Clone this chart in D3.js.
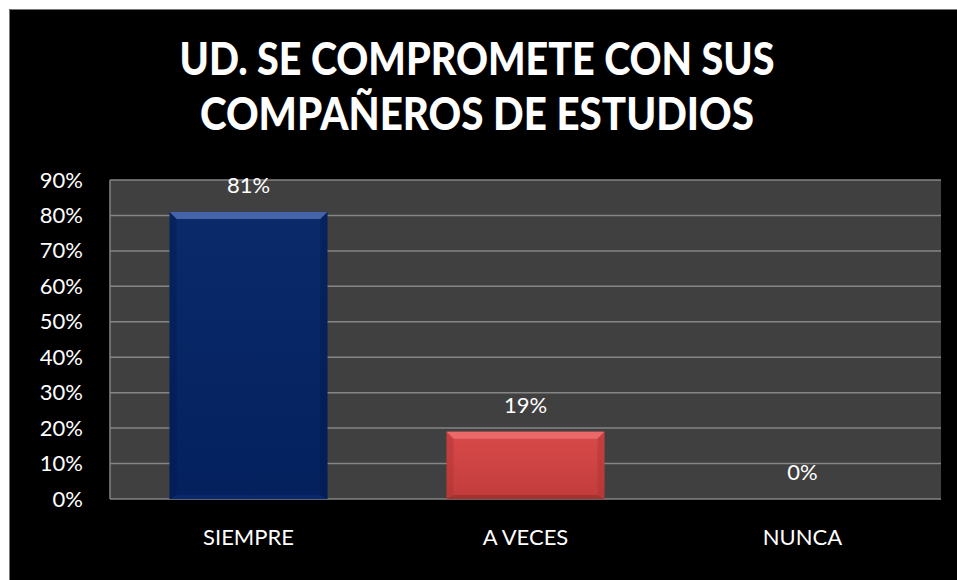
<!DOCTYPE html>
<html><head><meta charset="utf-8">
<script src="https://cdn.jsdelivr.net/npm/d3@7"></script>
<style>
html,body{margin:0;padding:0;background:#fff;}
svg{display:block;}
text{font-family:Lato,"Open Sans",sans-serif;}
</style></head>
<body>
<script>
const titleLines = ["UD. SE COMPROMETE CON SUS", "COMPAÑEROS DE ESTUDIOS"];
const categories = ["SIEMPRE", "A VECES", "NUNCA"];
const values = [0.81, 0.19, 0.00];
const valueLabels = ["81%", "19%", "0%"];
const barColors = ["#062463", "#d14444"];
const tickValues = [0, 0.1, 0.2, 0.3, 0.4, 0.5, 0.6, 0.7, 0.8, 0.9];

const W = 957, H = 580;
const svg = d3.select("body").append("svg").attr("width", W).attr("height", H);
svg.append("rect").attr("x", 9).attr("y", 9).attr("width", W - 9).attr("height", H - 9)
  .attr("fill", "#000");
svg.append("path").attr("d", `M9.5,${H}V9.5H${W}`).attr("fill", "none").attr("stroke", "#777").attr("stroke-width", 1);

const plot = {left: 110, right: 941, top: 180, bottom: 499};
const x = d3.scaleBand().domain(categories).range([plot.left, plot.right]).paddingInner(0.43).paddingOuter(0.215);
const y = d3.scaleLinear().domain([0, 0.9]).range([plot.bottom, plot.top]);

// title
const titleW = [595, 554];
titleLines.forEach((t, i) => {
  svg.append("text").attr("x", 477).attr("y", 75 + i * 55)
    .attr("text-anchor", "middle").attr("fill", "#fff")
    .attr("font-weight", 900).attr("font-size", 45)
    .attr("textLength", titleW[i]).attr("lengthAdjust", "spacingAndGlyphs")
    .text(t);
});

// plot background
svg.append("rect").attr("x", plot.left).attr("y", plot.top)
  .attr("width", plot.right - plot.left).attr("height", plot.bottom - plot.top)
  .attr("fill", "#404040");

// gridlines
svg.append("g").selectAll("line").data(tickValues).join("line")
  .attr("x1", plot.left).attr("x2", plot.right)
  .attr("y1", d => y(d)).attr("y2", d => y(d))
  .attr("stroke", "#858585").attr("stroke-width", 1.5);
svg.append("line").attr("x1", plot.left).attr("x2", plot.left).attr("y1", plot.top).attr("y2", plot.bottom)
  .attr("stroke", "#858585").attr("stroke-width", 1.5);

// y axis
const yAxis = svg.append("g").attr("transform", `translate(${plot.left},0)`)
  .call(d3.axisLeft(y).tickValues(tickValues).tickFormat(d3.format(".0%")).tickSize(0).tickPadding(27));
yAxis.select(".domain").remove();
yAxis.selectAll("text").attr("fill", "#fff").attr("font-size", 22).attr("font-family", "Lato, sans-serif");

// x axis
const xAxis = svg.append("g").attr("transform", `translate(0,${plot.bottom})`)
  .call(d3.axisBottom(x).tickSize(0).tickPadding(30));
xAxis.select(".domain").remove();
xAxis.selectAll("text").attr("fill", "#fff").attr("font-size", 22).attr("font-family", "Lato, sans-serif");

// gradients
const defs = svg.append("defs");
function grad(id, stops) {
  const g = defs.append("linearGradient").attr("id", id).attr("x1", 0).attr("y1", 0).attr("x2", 0).attr("y2", 1);
  stops.forEach(s => g.append("stop").attr("offset", s[0]).attr("stop-color", s[1]));
}
grad("gb", [[0, "#0a2a6a"], [1, "#04215e"]]);
grad("gr", [[0, "#d94a4a"], [1, "#c23c3c"]]);
const fills = ["url(#gb)", "url(#gr)"];
const topCol = ["#4d6fb5", "#ee6e6e"];
const sideCol = ["#031a4c", "#a83232"];
const botCol = ["#0a2c70", "#9a2c2c"];

const bars = svg.append("g");
values.forEach((v, i) => {
  if (v <= 0) return;
  const x0 = x(categories[i]), x1 = x0 + x.bandwidth();
  const y0 = y(v), y1 = y(0);
  const b = 7;
  const g = bars.append("g");
  g.append("rect").attr("x", x0).attr("y", y0).attr("width", x1 - x0).attr("height", y1 - y0)
    .attr("fill", fills[i]);
  g.append("polygon").attr("points", [[x0, y0], [x1, y0], [x1 - b, y0 + b], [x0 + b, y0 + b]].join(" "))
    .attr("fill", topCol[i]).attr("opacity", 0.85);
  g.append("polygon").attr("points", [[x0, y0], [x0 + b, y0 + b], [x0 + b, y1 - 4], [x0, y1]].join(" "))
    .attr("fill", sideCol[i]).attr("opacity", 0.4);
  g.append("polygon").attr("points", [[x1, y0], [x1 - b, y0 + b], [x1 - b, y1 - 4], [x1, y1]].join(" "))
    .attr("fill", sideCol[i]).attr("opacity", 0.4);
  g.append("polygon").attr("points", [[x0, y1], [x0 + b, y1 - 4], [x1 - b, y1 - 4], [x1, y1]].join(" "))
    .attr("fill", botCol[i]).attr("opacity", 0.7);
});

// value labels
svg.append("g").selectAll("text").data(values).join("text")
  .attr("x", (d, i) => x(categories[i]) + x.bandwidth() / 2)
  .attr("y", d => y(d) - 19)
  .attr("text-anchor", "middle").attr("fill", "#fff").attr("font-size", 22)
  .text((d, i) => valueLabels[i]);
</script>
</body></html>
